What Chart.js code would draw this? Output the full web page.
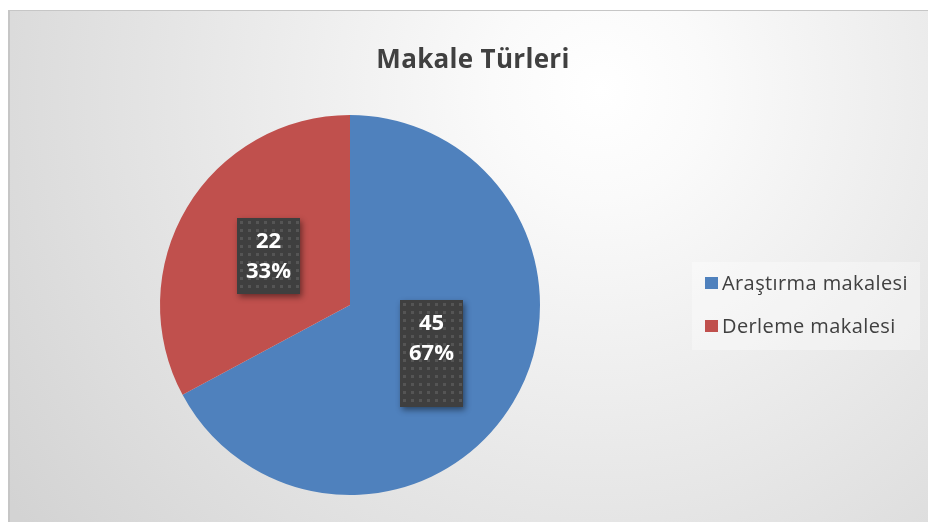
<!DOCTYPE html>
<html>
<head>
<meta charset="utf-8">
<script src="https://cdn.jsdelivr.net/npm/chart.js@4.4.1/dist/chart.umd.min.js"></script>
<style>
  html, body { margin: 0; padding: 0; background: #ffffff; }
  #wrap { width: 928px; height: 522px; }
</style>
</head>
<body>
<div id="wrap"><canvas id="myChart" width="928" height="522"></canvas></div>
<script>
const chartTitle = 'Makale Türleri';
const categories = ['Araştırma makalesi', 'Derleme makalesi'];
const counts = [45, 22];
const percentLabels = ['67%', '33%'];
const sliceColors = ['#4F81BD', '#C0504D'];

const textColor = '#404040';
const fontFamily = "'Open Sans', 'Noto Sans', sans-serif";

// background, title, legend and the dark value boxes
const decorPlugin = {
    id: 'decor',
    beforeDraw(chart) {
        const ctx = chart.ctx;
        ctx.save();
        ctx.fillStyle = '#ffffff';
        ctx.fillRect(0, 0, chart.width, chart.height);
        const g = ctx.createRadialGradient(600, 90, 0, 600, 90, 720);
        g.addColorStop(0, '#ffffff');
        g.addColorStop(0.15, '#fafafa');
        g.addColorStop(0.6, '#e5e5e5');
        g.addColorStop(1, '#d3d3d3');
        ctx.fillStyle = g;
        ctx.fillRect(8, 10, chart.width - 8, chart.height - 10);
        ctx.strokeStyle = '#c6c6c6';
        ctx.lineWidth = 2;
        ctx.beginPath();
        ctx.moveTo(9, chart.height);
        ctx.lineTo(9, 10.5);
        ctx.stroke();
        ctx.lineWidth = 1;
        ctx.beginPath();
        ctx.moveTo(8, 10.5);
        ctx.lineTo(chart.width, 10.5);
        ctx.stroke();

        // title
        ctx.fillStyle = textColor;
        ctx.font = 'bold 26px ' + fontFamily;
        ctx.letterSpacing = '0.3px';
        ctx.textAlign = 'center';
        ctx.textBaseline = 'middle';
        ctx.fillText(chartTitle, 473, 61);
        ctx.letterSpacing = '0px';

        // legend
        ctx.fillStyle = 'rgba(255,255,255,0.35)';
        ctx.fillRect(692, 262, 228, 88);
        ctx.font = '20px ' + fontFamily;
        ctx.letterSpacing = '0.4px';
        ctx.textAlign = 'left';
        categories.forEach((name, i) => {
            const y = 283 + i * 43;
            ctx.fillStyle = sliceColors[i];
            ctx.fillRect(705, y - 6, 13, 12);
            ctx.fillStyle = textColor;
            ctx.fillText(name, 722, y + 1);
        });
        ctx.letterSpacing = '0px';
        ctx.restore();
    },
    afterDatasetsDraw(chart) {
        const ctx = chart.ctx;
        const meta = chart.getDatasetMeta(0);
        const boxHeights = [107, 76];
        const boxW = 63;
        meta.data.forEach((arc, i) => {
            const p = arc.tooltipPosition();
            const x = Math.round(p.x - boxW / 2);
            const y = Math.round(p.y - boxHeights[i] / 2);
            const h = boxHeights[i];
            ctx.save();
            ctx.shadowColor = 'rgba(0,0,0,0.45)';
            ctx.shadowBlur = 6;
            ctx.shadowOffsetX = 2;
            ctx.shadowOffsetY = 3;
            ctx.fillStyle = '#3f3f3f';
            ctx.fillRect(x, y, boxW, h);
            ctx.restore();
            ctx.save();
            // dotted pattern
            ctx.fillStyle = '#555555';
            for (let dy = 3; dy < h - 3; dy += 8) {
                for (let dx = 3; dx < boxW - 3; dx += 8) {
                    ctx.fillRect(x + dx, y + dy, 3, 3);
                }
            }
            ctx.fillStyle = '#ffffff';
            ctx.font = 'bold 22px ' + fontFamily;
            ctx.textAlign = 'center';
            ctx.textBaseline = 'middle';
            ctx.fillText(String(counts[i]), x + boxW / 2, y + 24);
            ctx.fillText(percentLabels[i], x + boxW / 2, y + 54);
            ctx.restore();
        });
    }
};

const ctx = document.getElementById('myChart').getContext('2d');
const pieChart = new Chart(ctx, {
    type: 'pie',
    data: {
        labels: categories,
        datasets: [{
            data: counts,
            backgroundColor: sliceColors,
            borderWidth: 0
        }]
    },
    options: {
        responsive: false,
        animation: false,
        layout: {
            padding: { left: 160, right: 388, top: 115, bottom: 27 }
        },
        plugins: {
            legend: { display: false },
            title: { display: false },
            tooltip: { enabled: false }
        }
    },
    plugins: [decorPlugin]
});
</script>
</body>
</html>
